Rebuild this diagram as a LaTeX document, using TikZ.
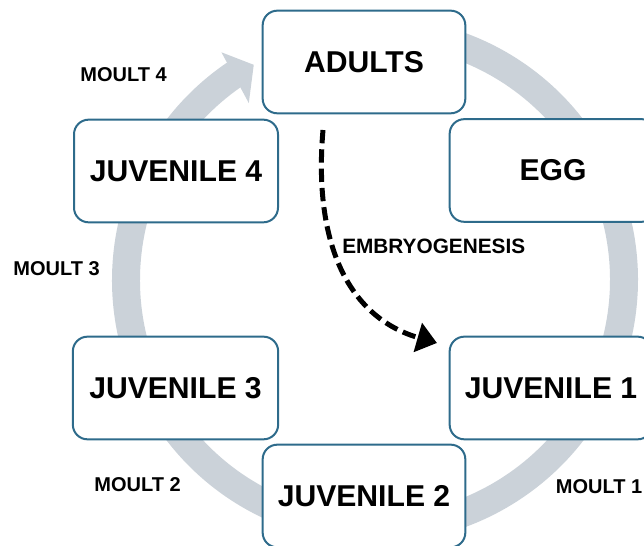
\documentclass[tikz,border=0pt]{standalone}
\usepackage{fontspec}
\setmainfont{Liberation Sans}
\usetikzlibrary{arrows.meta,calc}
\definecolor{ringgrey}{HTML}{CBD2D9}
\definecolor{boxblue}{HTML}{2E6B8B}
\begin{document}
\begin{tikzpicture}[x=0.75pt,y=0.75pt,
  stage/.style={draw=boxblue, line width=1.5pt, fill=white, rounded corners=11pt,
    minimum width=152pt, minimum height=77pt, inner sep=0pt,
    font=\fontsize{22.6}{26}\selectfont\bfseries},
  moult/.style={inner sep=0pt, font=\fontsize{15}{17}\selectfont\bfseries},
  ring/.style={draw=ringgrey, line width=21pt},
  embryo/.style={line width=3.75pt, dash pattern=on 10pt off 4.5pt,
    -{Triangle[length=15pt,width=22pt]}}]
\useasboundingbox (0,0) rectangle (644,546);
\clip (0,0) rectangle (644,546);
\coordinate (c) at (375,266);
% ring with arrowhead
\draw[ring] ($(c)+(124.2:186.75pt)$) arc[start angle=124.2, end angle=460, radius=186.75pt];
\fill[ringgrey] ($(c)+(119.4:185.25pt)$) -- ($(c)+(124:206pt)$) -- ($(c)+(125.5:163pt)$) -- cycle;
% stages
\node[stage] (adults) at (364,484) {ADULTS};
\node[stage, minimum width=155pt] (egg) at (553,375.5) {EGG};
\node[stage] (juv1) at (551,158) {JUVENILE 1};
\node[stage] (juv2) at (364,50) {JUVENILE 2};
\node[stage, minimum width=154pt] (juv3) at (175.5,158) {JUVENILE 3};
\node[stage, minimum width=153pt] (juv4) at (176,375) {JUVENILE 4};
% moult labels
\node[moult] (m4) at (123.5,471.5) {MOULT 4};
\node[moult] (m3) at (56.5,277.5) {MOULT 3};
\node[moult] (m2) at (137.5,61) {MOULT 2};
\node[moult] (m1) at (599,59) {MOULT 1};
\node[moult, anchor=west, font=\fontsize{15.6}{18}\selectfont\bfseries] (emb) at (342,300) {EMBRYOGENESIS};
% embryogenesis arrow
\coordinate (ds) at (323,416);
\coordinate (de) at (437,203);
\draw[embryo] (ds) .. controls (313,300) and (350,228) .. (de);
\end{tikzpicture}
\end{document}
